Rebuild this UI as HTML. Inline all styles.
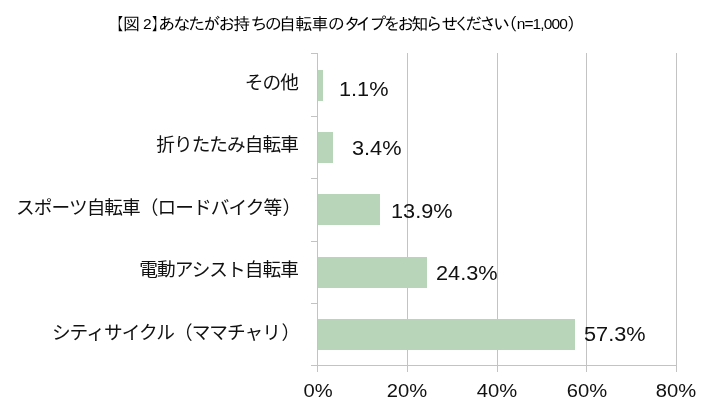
<!DOCTYPE html>
<html lang="ja">
<head>
<meta charset="utf-8">
<title>図2 自転車のタイプ</title>
<style>
html,body{margin:0;padding:0;background:#fff;}
body{width:709px;height:415px;position:relative;overflow:hidden;font-family:"Liberation Sans","Noto Sans CJK JP",sans-serif;color:#111;}
.abs{position:absolute;white-space:nowrap;}
.title{left:106.8px;top:14.5px;font-family:"Liberation Sans","IPAGothic","Noto Sans CJK JP",sans-serif;font-size:17px;line-height:20px;color:#000;}
.title .l{font-size:15.5px;position:relative;top:-1px;}
.grid{position:absolute;width:1px;background:#c3c3c3;top:53px;height:319px;}
.tick{position:absolute;height:1px;background:#c3c3c3;left:311px;width:7px;}
.haxis{position:absolute;height:1px;background:#c3c3c3;left:311px;top:365px;width:366px;}
.bar{position:absolute;left:318px;height:31px;background:#b8d4b9;}
.cat{right:411px;font-weight:400;font-size:18.67px;line-height:24px;text-align:right;letter-spacing:-0.93px;}
.cp{margin-left:1.3px;margin-right:-1.3px;}
.val{font-size:20px;line-height:24px;transform:scaleX(1.085);transform-origin:0 50%;}
.xl{font-size:18px;line-height:24px;width:80px;text-align:center;transform:scaleX(1.12);transform-origin:50% 50%;}
</style>
</head>
<body>
<div class="abs title"><span style="letter-spacing:-0.75px">【図</span><span class="l" style="letter-spacing:-0.5px"> 2</span><span style="letter-spacing:-10px">】</span><span style="letter-spacing:-2px">あなたがお</span><span style="letter-spacing:0.25px">持</span><span style="letter-spacing:-2.75px">ちの</span><span style="letter-spacing:-0.75px">自転車の</span><span style="letter-spacing:-5.75px">タ</span><span style="letter-spacing:-3px">イプをお知</span><span style="letter-spacing:-1px">ら</span><span style="letter-spacing:-5px">せく</span><span style="letter-spacing:-3px">ださ</span><span style="letter-spacing:-9.75px">い</span><span style="letter-spacing:-0.75px">（</span><span class="l" style="letter-spacing:-0.9px">n=1,000</span>）</div>

<div class="grid" style="left:317px"></div>
<div class="grid" style="left:407px"></div>
<div class="grid" style="left:497px"></div>
<div class="grid" style="left:586px"></div>
<div class="grid" style="left:676px"></div>
<div class="haxis"></div>
<div class="tick" style="top:53px"></div>
<div class="tick" style="top:116px"></div>
<div class="tick" style="top:178px"></div>
<div class="tick" style="top:241px"></div>
<div class="tick" style="top:303px"></div>

<div class="bar" style="top:70px;width:5px"></div>
<div class="bar" style="top:132px;width:15px"></div>
<div class="bar" style="top:194px;width:62px"></div>
<div class="bar" style="top:257px;width:109px"></div>
<div class="bar" style="top:319px;width:257px"></div>

<div class="abs cat" style="top:71px">その他</div>
<div class="abs cat" style="top:133.4px">折りたたみ自転車</div>
<div class="abs cat" style="top:196px;right:410px">スポーツ自転車（ロードバイク等<span class="cp">）</span></div>
<div class="abs cat" style="top:258.4px">電動アシスト自転車</div>
<div class="abs cat" style="top:320.8px;right:411.2px">シティサイクル（ママチャリ<span class="cp">）</span></div>

<div class="abs val" style="left:339px;top:77px">1.1%</div>
<div class="abs val" style="left:352px;top:136px">3.4%</div>
<div class="abs val" style="left:391px;top:199px">13.9%</div>
<div class="abs val" style="left:436px;top:260.5px">24.3%</div>
<div class="abs val" style="left:584px;top:322px">57.3%</div>

<div class="abs xl" style="left:278px;top:379px">0%</div>
<div class="abs xl" style="left:367.4px;top:379px">20%</div>
<div class="abs xl" style="left:457.3px;top:379px">40%</div>
<div class="abs xl" style="left:546.8px;top:379px">60%</div>
<div class="abs xl" style="left:636.4px;top:379px">80%</div>
</body>
</html>
